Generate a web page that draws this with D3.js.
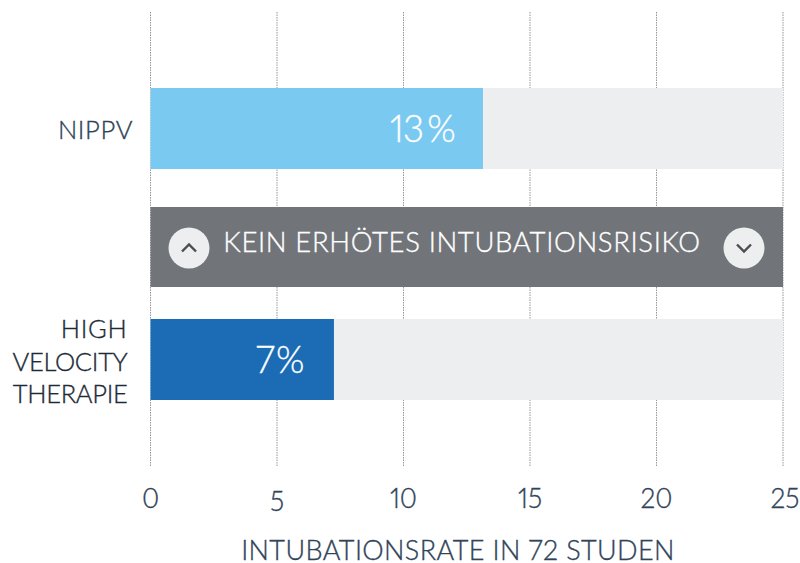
<!DOCTYPE html>
<html><head><meta charset="utf-8">
<script src="https://cdn.jsdelivr.net/npm/d3@7/dist/d3.min.js"></script>
<style>html,body{margin:0;padding:0;background:#fff}svg{display:block}text{font-family:Lato,sans-serif;font-weight:300;font-feature-settings:"pnum","lnum";stroke-width:0.35;paint-order:stroke}</style>
</head><body><svg width="800" height="563"></svg>
<script>
const categories = ["NIPPV", "HIGH VELOCITY THERAPIE"];
const categoryLines = [["NIPPV"], ["HIGH", "VELOCITY", "THERAPIE"]];
const values = [13.14, 7.25];
const valueLabels = ["13\u2009%", "7%"];
const ticks = [0, 5, 10, 15, 20, 25];
const bandLabel = "KEIN ERH\u00d6TES INTUBATIONSRISIKO";
const axisTitle = "INTUBATIONSRATE IN 72 STUDEN";
const barColors = ["#7ac9f1", "#1b6cb4"];

const svg = d3.select("svg");
const x = d3.scaleLinear().domain([0, 25]).range([150.5, 783]);
const rowY = {"NIPPV": 88, "band": 207, "HIGH VELOCITY THERAPIE": 319};
const rowH = 81;
const ink = "#2f4359";

// grid
svg.append("g").selectAll("line").data(ticks).join("line")
  .attr("x1", d => x(d)).attr("x2", d => x(d))
  .attr("y1", 12).attr("y2", 466)
  .attr("stroke", "#94979b").attr("stroke-width", 1).attr("stroke-dasharray", "1.5,1");

// tracks
svg.append("g").selectAll("rect").data(categories).join("rect")
  .attr("x", x(0)).attr("width", x(25) - x(0))
  .attr("y", d => rowY[d]).attr("height", rowH).attr("fill", "#edeef0");
// bars
svg.append("g").selectAll("rect").data(categories).join("rect")
  .attr("x", x(0)).attr("width", (d, i) => x(values[i]) - x(0))
  .attr("y", d => rowY[d]).attr("height", rowH).attr("fill", (d, i) => barColors[i]);
// value labels
svg.append("g").selectAll("text").data(categories).join("text")
  .attr("x", (d, i) => x(values[i]) - 28)
  .attr("y", d => rowY[d] + 54)
  .attr("text-anchor", "end").attr("font-size", 36.5)
  .attr("letter-spacing", (d, i) => i === 0 ? -0.7 : 1.4)
  .attr("fill", "#fff").attr("stroke", "#fff")
  .text((d, i) => valueLabels[i]);

// band
svg.append("rect").attr("x", x(0)).attr("width", x(25) - x(0)).attr("y", rowY.band).attr("height", 80).attr("fill", "#717478");
svg.append("text").attr("x", 462).attr("y", 252).attr("text-anchor", "middle")
  .attr("font-size", 27.5).attr("letter-spacing", 0.65).attr("fill", "#fff").attr("stroke", "#fff").text(bandLabel);
const buttons = [{cx: 189, dir: -1}, {cx: 744, dir: 1}];
buttons.forEach(b => {
  svg.append("circle").attr("cx", b.cx).attr("cy", 248).attr("r", 20.5).attr("fill", "#edeef0");
  svg.append("path").attr("d", d3.line()([[b.cx - 7, 248 - 3.5 * b.dir], [b.cx, 248 + 3.5 * b.dir], [b.cx + 7, 248 - 3.5 * b.dir]]))
    .attr("fill", "none").attr("stroke", "#4a4d52").attr("stroke-width", 2.4);
});

// category labels
categories.forEach((c, i) => {
  const lines = categoryLines[i];
  const cy = rowY[c] + rowH / 2;
  lines.forEach((l, j) => {
    const col = i === 0 ? ink : "#1e2a36";
    svg.append("text").attr("x", i === 0 ? 133 : 127.5)
      .attr("y", cy + (i === 0 ? 10.5 : 11) + (j - (lines.length - 1) / 2) * 32.5)
      .attr("text-anchor", "end").attr("font-size", 25.5)
      .attr("letter-spacing", i === 0 ? 0.6 : (j === 0 ? 0.7 : -0.3))
      .attr("fill", col).attr("stroke", col).text(l);
  });
});

// tick labels
svg.append("g").selectAll("text").data(ticks).join("text")
  .attr("x", d => x(d) + (d === 25 ? 2 : 0)).attr("y", d => d === 5 ? 511 : 508)
  .attr("text-anchor", "middle").attr("font-size", 26.5).attr("fill", ink).attr("stroke", ink).text(d => d);

svg.append("text").attr("x", 458).attr("y", 560).attr("text-anchor", "middle")
  .attr("font-size", 27).attr("letter-spacing", 0.4).attr("fill", ink).attr("stroke", ink).text(axisTitle);
</script></body></html>
